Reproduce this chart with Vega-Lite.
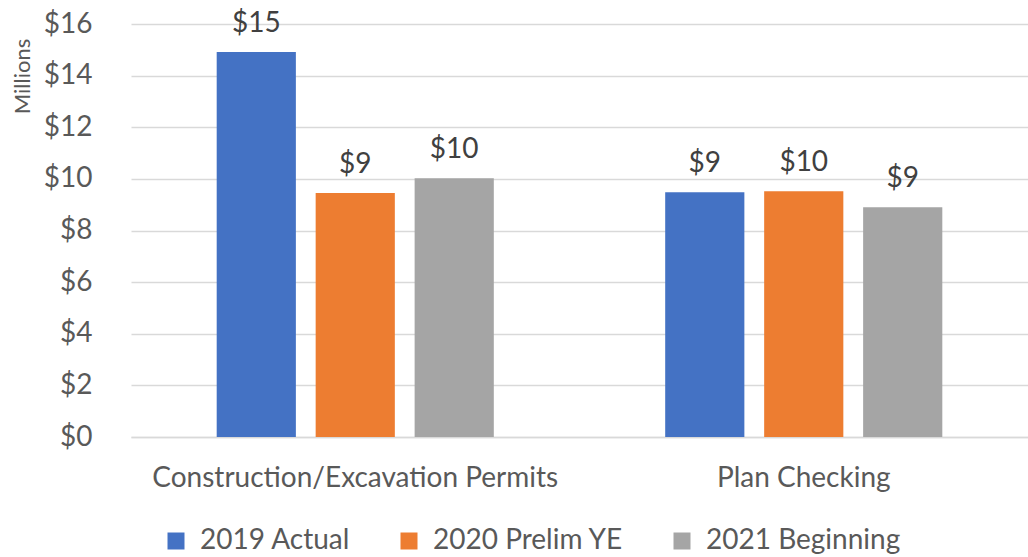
{
  "$schema": "https://vega.github.io/schema/vega-lite/v6.json",
  "width": 897,
  "height": 413,
  "autosize": {"type": "none"},
  "padding": {"left": 131, "top": 24, "right": 0, "bottom": 120},
  "background": "white",
  "config": {
    "font": "Lato",
    "view": {"stroke": null},
    "axis": {"labelColor": "#595959", "titleColor": "#595959", "labelFont": "Lato", "titleFont": "Lato"}
  },
  "data": {
    "values": [
      {"category": "Construction/Excavation Permits", "series": "2019 Actual", "value": 14.92},
      {"category": "Construction/Excavation Permits", "series": "2020 Prelim YE", "value": 9.45},
      {"category": "Construction/Excavation Permits", "series": "2021 Beginning", "value": 10.02},
      {"category": "Plan Checking", "series": "2019 Actual", "value": 9.48},
      {"category": "Plan Checking", "series": "2020 Prelim YE", "value": 9.52},
      {"category": "Plan Checking", "series": "2021 Beginning", "value": 8.9}
    ]
  },
  "encoding": {
    "x": {
      "field": "category", "type": "nominal", "sort": null,
      "scale": {"paddingInner": 0.338, "paddingOuter": 0.169},
      "axis": {"title": null, "labelAngle": 0, "labelFontSize": 28, "labelPadding": 27, "labelLimit": 0, "ticks": false, "domainColor": "#D9D9D9", "domainWidth": 1.5}
    },
    "xOffset": {
      "field": "series", "type": "nominal",
      "sort": ["2019 Actual", "2020 Prelim YE", "2021 Beginning"],
      "scale": {"paddingInner": 0.2, "paddingOuter": 0.1}
    },
    "y": {
      "field": "value", "type": "quantitative",
      "scale": {"domain": [0, 16], "nice": false},
      "axis": {
        "title": "Millions", "titleFontSize": 22, "titleFontWeight": "normal",
        "titleX": -109, "titleY": 52, "titleAngle": -90, "titleAlign": "center", "titleBaseline": "middle",
        "values": [0, 2, 4, 6, 8, 10, 12, 14, 16], "labelOverlap": false,
        "format": "$.0f", "labelFontSize": 28, "labelPadding": 39, "ticks": false, "domain": false,
        "gridColor": "#D9D9D9", "gridWidth": 1.5
      }
    },
    "color": {
      "field": "series", "type": "nominal",
      "sort": ["2019 Actual", "2020 Prelim YE", "2021 Beginning"],
      "scale": {"domain": ["2019 Actual", "2020 Prelim YE", "2021 Beginning"], "range": ["#4472C4", "#ED7D31", "#A5A5A5"]},
      "legend": {
        "title": null, "orient": "none", "direction": "horizontal",
        "legendX": 31, "legendY": 503,
        "symbolType": "square", "symbolSize": 289, "symbolStrokeWidth": 0,
        "labelFontSize": 28, "labelColor": "#595959", "labelFont": "Lato", "labelLimit": 0,
        "columnPadding": 44, "labelOffset": 10
      }
    }
  },
  "layer": [
    {"mark": {"type": "bar"}},
    {
      "mark": {"type": "text", "baseline": "bottom", "dy": -14, "fontSize": 28, "color": "#404040"},
      "encoding": {"text": {"field": "value", "type": "quantitative", "format": "$.0f"}, "color": {"value": "#404040"}}
    }
  ]
}
